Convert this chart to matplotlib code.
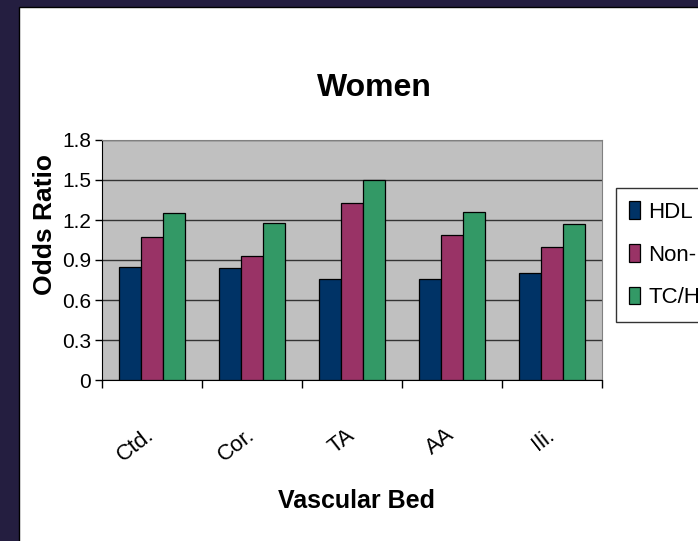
import matplotlib
matplotlib.use("Agg")
from matplotlib import pyplot as plt
from matplotlib.patches import Rectangle
import numpy as np

# Odds ratios per vascular bed (women)
beds = ['Ctd.', 'Cor.', 'TA', 'AA', 'Ili.']
series_names = ['HDL', 'Non-HDL', 'TC/HDL']
hdl = [0.85, 0.84, 0.76, 0.76, 0.80]
non_hdl = [1.07, 0.93, 1.33, 1.09, 1.00]
tc_hdl = [1.25, 1.18, 1.50, 1.26, 1.17]
y_ticks = [0, 0.3, 0.6, 0.9, 1.2, 1.5, 1.8]
y_tick_labels = ['0', '0.3', '0.6', '0.9', '1.2', '1.5', '1.8']

colors = ['#003366', '#993366', '#339966']
plt.rcParams['font.family'] = ['Liberation Sans', 'DejaVu Sans']

W, H = 698, 541
fig = plt.figure(figsize=(W / 100, H / 100), dpi=100)
fig.patch.set_facecolor('#241E40')

# white slide panel
fig.add_artist(Rectangle((19 / W, -0.01), 1.0, 1 - 7 / H + 0.01, transform=fig.transFigure,
                         facecolor='white', edgecolor='black', linewidth=1, zorder=-10))

ax = fig.add_axes([102 / W, 1 - 380 / H, 500 / W, 240 / H])
ax.set_facecolor('#C0C0C0')

x = np.arange(len(beds))
w = 0.222
for i, (vals, c) in enumerate(zip([hdl, non_hdl, tc_hdl], colors)):
    ax.bar(x + (i - 1) * w, vals, width=w, color=c, edgecolor='black', linewidth=0.9,
           label=series_names[i], zorder=3)

ax.set_xlim(-0.5, len(beds) - 0.5)
ax.set_ylim(0, 1.8)
ax.set_yticks(y_ticks, y_tick_labels)
ax.tick_params(axis='y', direction='out', length=5, width=1, labelsize=15, pad=3)
ax.yaxis.grid(True, color='#333333', linewidth=1, zorder=1)
ax.set_axisbelow(True)

# category boundary ticks, labels at centers
ax.set_xticks(np.arange(-0.5, len(beds), 1.0))
ax.set_xticklabels([])
ax.tick_params(axis='x', which='major', direction='out', length=6, width=1)
ax.set_xticks(x, beds, minor=True)
ax.tick_params(axis='x', which='minor', length=0, labelsize=16, pad=38)
for lbl in ax.get_xticklabels(minor=True):
    lbl.set_rotation(38)
    lbl.set_ha('right')
    lbl.set_va('center')
    lbl.set_rotation_mode('anchor')

for s in ['left', 'bottom']:
    ax.spines[s].set_color('black')
for s in ['top', 'right']:
    ax.spines[s].set_color('#808080')

fig.text(374 / W, 1 - 88 / H, 'Women', ha='center', va='center', fontsize=23, fontweight='bold')
fig.text(45 / W, 1 - 225 / H, 'Odds Ratio', ha='center', va='center', rotation=90,
         fontsize=19, fontweight='bold')
fig.text(357 / W, 1 - 501 / H, 'Vascular Bed', ha='center', va='center', fontsize=18,
         fontweight='bold')

leg = ax.legend(loc='upper left', bbox_to_anchor=(616 / W, 1 - 188 / H), bbox_transform=fig.transFigure,
                fontsize=16, frameon=True, fancybox=False, borderaxespad=0, borderpad=0.6,
                handlelength=0.5, handleheight=0.85, handletextpad=0.35, labelspacing=0.95)
leg.get_frame().set_edgecolor('black')
leg.get_frame().set_linewidth(1)

fig.savefig('out.png', dpi=100, facecolor=fig.get_facecolor())
